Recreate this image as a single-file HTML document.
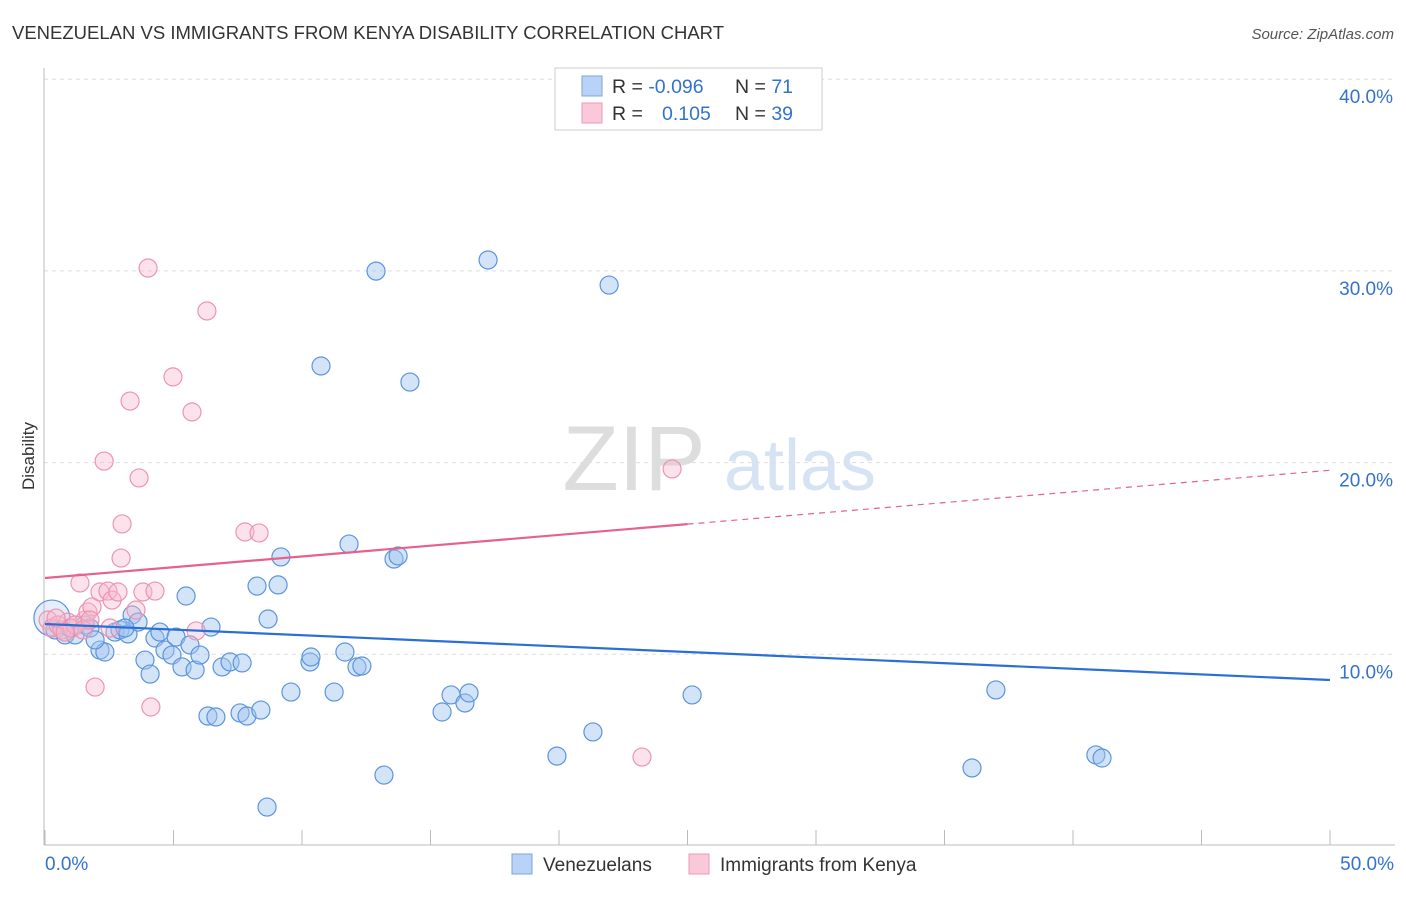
<!DOCTYPE html>
<html><head><meta charset="utf-8"><style>
body{margin:0;background:#fff;font-family:"Liberation Sans",sans-serif;}
svg text{font-family:"Liberation Sans",sans-serif;}
</style></head><body>
<svg width="1406" height="892" xmlns="http://www.w3.org/2000/svg">
<text x="12" y="39" font-size="18" fill="#333" textLength="712" lengthAdjust="spacingAndGlyphs">VENEZUELAN VS IMMIGRANTS FROM KENYA DISABILITY CORRELATION CHART</text>
<text x="1394" y="39" font-size="15" fill="#555" font-style="italic" text-anchor="end">Source: ZipAtlas.com</text>
<g><text x="634" y="490" font-size="92" fill="#ddd" font-family="Liberation Serif" text-anchor="middle">ZIP</text><text x="800" y="490" font-size="72" fill="#d5e3f5" text-anchor="middle">atlas</text></g>
<g id="grid"></g>
<line x1="44" y1="68" x2="44" y2="845" stroke="#bbb"/>
<line x1="44" y1="845" x2="1395" y2="845" stroke="#bbb"/>
<text transform="translate(34,456) rotate(-90)" font-size="17" fill="#333" text-anchor="middle">Disability</text>
<g id="pts"></g>
<g id="lines"></g>
<g>
<rect x="555" y="68" width="267" height="62" fill="#fff" stroke="#ccc"/>
<rect x="582" y="76" width="20" height="20" fill="#b8d3f5" stroke="#7aa6e0"/>
<rect x="582" y="103" width="20" height="20" fill="#fac8d8" stroke="#ee99b4"/>
<text x="612" y="93" font-size="19.5" fill="#333">R = <tspan fill="#3373cc">-0.096</tspan><tspan x="735">N = </tspan><tspan fill="#3373cc">71</tspan></text>
<text x="612" y="120" font-size="19.5" fill="#333">R = <tspan x="662" fill="#3373cc">0.105</tspan><tspan x="735">N = </tspan><tspan fill="#3373cc">39</tspan></text>
</g>
<g>
<rect x="512" y="854" width="20" height="20" fill="#b8d3f5" stroke="#7aa6e0"/>
<text x="543" y="871" font-size="19" fill="#333">Venezuelans</text>
<rect x="689" y="854" width="20" height="20" fill="#fac8d8" stroke="#ee99b4"/>
<text x="720" y="871" font-size="19" fill="#333">Immigrants from Kenya</text>
</g>
<text x="45" y="870" font-size="19" fill="#3373cc">0.0%</text>
<text x="1394" y="870" font-size="19" fill="#3373cc" text-anchor="end">50.0%</text>
</svg>
<script>
const yTicks=[10,20,30,40];
const yTickLabels=["10.0%","20.0%","30.0%","40.0%"];
const xTicks=[0,5,10,15,20,25,30,35,40,45,50];
const blueX=[0.27,0.39,0.78,1.17,1.56,1.75,2.14,2.33,1.95,2.72,2.92,3.23,3.39,3.62,3.89,4.09,4.28,4.47,4.67,4.94,5.10,5.33,5.49,5.64,5.84,6.03,6.34,6.46,6.65,6.89,7.20,7.59,7.67,7.86,8.25,8.40,8.64,8.68,9.07,9.18,9.57,10.31,10.35,10.74,11.25,11.67,11.83,12.14,12.33,12.88,13.19,13.58,13.74,14.20,15.45,15.80,16.34,16.50,17.24,19.92,21.32,21.95,25.18,36.07,37.00,40.89,41.13,0.97,3.11];
const blueY=[11.89,11.27,11.01,11.01,11.53,11.37,10.22,10.12,10.75,11.16,11.27,11.06,12.05,11.68,9.70,8.97,10.85,11.16,10.22,9.96,10.90,9.34,13.04,10.49,9.18,9.96,6.78,11.42,6.73,9.34,9.60,6.94,9.55,6.78,13.56,7.09,2.03,11.84,13.62,15.08,8.03,9.60,9.86,25.04,8.03,10.12,15.75,9.34,9.39,29.99,3.70,14.97,15.13,24.20,6.99,7.88,7.46,7.98,30.57,4.69,5.95,29.26,7.88,4.07,8.14,4.75,4.59,11.37,11.37];
const pinkX=[0.12,0.27,0.51,0.66,0.89,1.05,1.36,1.56,1.67,1.83,1.95,2.14,2.30,2.45,2.61,2.84,3.00,2.96,3.31,3.54,3.66,3.81,4.01,4.12,4.28,4.98,5.72,5.88,6.30,7.78,8.33,23.23,24.40,1.17,0.78,2.53,0.43,1.48,1.75];
const pinkY=[11.79,11.37,11.53,11.27,11.68,11.37,13.72,11.79,12.21,12.47,8.29,13.25,20.08,13.30,12.83,13.25,16.80,15.02,23.21,12.31,19.20,13.25,30.15,7.25,13.30,24.47,22.64,11.22,27.91,16.38,16.33,4.64,19.67,11.53,11.16,11.37,11.89,11.27,11.79];
const blueTrend=[11.58,8.66];
const pinkTrend=[13.98,19.6];
const NS="http://www.w3.org/2000/svg";
const sx=v=>45+v*25.7;
const sy=v=>846-v*19.17;
function mk(t,a,p){const e=document.createElementNS(NS,t);for(const k in a)e.setAttribute(k,a[k]);p.appendChild(e);return e;}
const grid=document.getElementById('grid');
yTicks.forEach((t,i)=>{
 const l=mk('line',{x1:44,x2:1395,y1:sy(t),y2:sy(t),stroke:'#ddd','stroke-dasharray':'4,4'},grid);
 
 
 const tx=mk('text',{x:1393,y:sy(t)+24,'font-size':19,fill:'#3373cc','text-anchor':'end'},grid);
 tx.textContent=yTickLabels[i];
 
 
});
xTicks.forEach(t=>{
 const l=mk('line',{x1:sx(t),x2:sx(t),y1:830,y2:845,stroke:'#bbb'},grid);
 
 
});
const pts=document.getElementById('pts');
blueX.forEach((x,i)=>{
 const c=mk('circle',{cx:sx(x),cy:sy(blueY[i]),r:i==0?18:9,fill:i==0?'rgba(170,200,240,0.3)':'rgba(160,196,240,0.45)',stroke:'#5b95dc','stroke-width':1.2},pts);
 
 
});
pinkX.forEach((x,i)=>{
 const c=mk('circle',{cx:sx(x),cy:sy(pinkY[i]),r:9,fill:'rgba(248,184,204,0.4)',stroke:'#ec94b2','stroke-width':1.2},pts);
 
 
});
const lines=document.getElementById('lines');
const bl=mk('line',{x1:sx(0),y1:sy(blueTrend[0]),x2:sx(50),y2:sy(blueTrend[1]),stroke:'#2a6fd6','stroke-width':2.2},lines);


const pm=pinkTrend[0]+(pinkTrend[1]-pinkTrend[0])*0.5;
const pl=mk('line',{x1:sx(0),y1:sy(pinkTrend[0]),x2:sx(25),y2:sy(pm),stroke:'#e4628c','stroke-width':2.2},lines);


const pd=mk('line',{x1:sx(25),y1:sy(pm),x2:sx(50),y2:sy(pinkTrend[1]),stroke:'#e4628c','stroke-width':1.2,'stroke-dasharray':'6,5'},lines);


</script>
</body></html>
